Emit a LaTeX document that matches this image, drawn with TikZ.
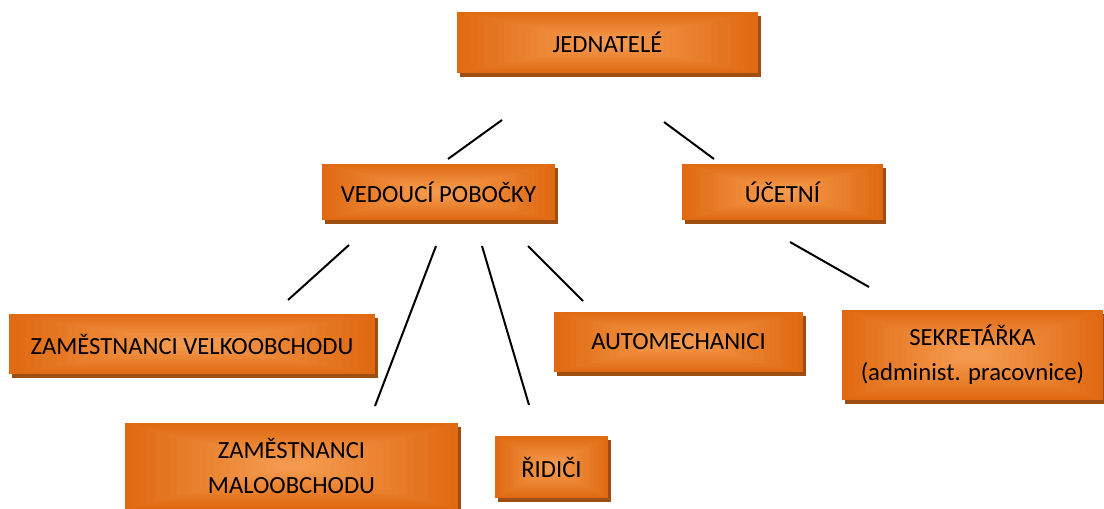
\documentclass[tikz,border=0pt]{standalone}
\usepackage{fontspec}
\setmainfont{Carlito}
\usetikzlibrary{shadows,calc}
\definecolor{edgeo}{RGB}{224,106,18}
\definecolor{liteo}{RGB}{244,154,78}
\definecolor{shadowc}{RGB}{158,78,18}
\tikzset{
  sz/.style 2 args={minimum width=#1*0.75pt, minimum height=#2*0.75pt},
  obox/.style={rectangle, inner sep=0pt, align=center,
    font=\fontsize{18.5}{26}\selectfont,
    drop shadow={shadow xshift=2.25pt, shadow yshift=-3pt, fill=shadowc, opacity=1},
    path picture={
      \foreach \i in {0,...,20}{
        \pgfmathsetmacro\t{\i/20*0.9}
        \pgfmathsetmacro\p{\i*5}
        \fill[liteo!\p!edgeo]
          ($(path picture bounding box.south west)!\t!(path picture bounding box.center)$)
          rectangle
          ($(path picture bounding box.north east)!\t!(path picture bounding box.center)$);
      }
    }},
  link/.style={line width=1.5pt, black}
}
\begin{document}
\begin{tikzpicture}[x=0.75pt, y=-0.75pt]
  \useasboundingbox (0,0) rectangle (1104,509);
  \clip (0,0) rectangle (1104,509);
  \fill[white] (0,0) rectangle (1104,509);

  % boxes
  \node[obox, sz={301}{61}] (jed) at (607.5,42.5) {JEDNATELÉ};
  \node[obox, sz={233}{56}] (ved) at (438.5,192) {VEDOUCÍ POBOČKY};
  \node[obox, sz={201}{56}] (uce) at (782.5,192) {ÚČETNÍ};
  \node[obox, sz={366}{60}] (vel) at (192,344) {ZAMĚSTNANCI VELKOOBCHODU};
  \node[obox, sz={249}{60}] (aut) at (678.5,342) {AUTOMECHANICI};
  \node[obox, sz={261}{90}] (sek) at (972.5,355) {SEKRETÁŘKA\\(administ. pracovnice)};
  \node[obox, sz={333}{86}] (mal) at (291.5,466) {ZAMĚSTNANCI\\MALOOBCHODU};
  \node[obox, sz={113}{62}] (rid) at (551.5,467) {ŘIDIČI};

  % free-standing connector ends
  \coordinate (jedL) at (502,120);  \coordinate (vedT) at (448,159);
  \coordinate (jedR) at (664,122);  \coordinate (uceT) at (714,159);
  \coordinate (vedA) at (349,245);  \coordinate (velT) at (288,300);
  \coordinate (vedB) at (436,246);  \coordinate (malT) at (375,406);
  \coordinate (vedC) at (482,246);  \coordinate (ridT) at (529,405);
  \coordinate (vedD) at (528,246);  \coordinate (autT) at (583,301);
  \coordinate (uceB) at (790,242);  \coordinate (sekT) at (869,287);

  % connectors
  \draw[link] (jedL) -- (vedT);
  \draw[link] (jedR) -- (uceT);
  \draw[link] (vedA) -- (velT);
  \draw[link] (vedB) -- (malT);
  \draw[link] (vedC) -- (ridT);
  \draw[link] (vedD) -- (autT);
  \draw[link] (uceB) -- (sekT);
\end{tikzpicture}
\end{document}
